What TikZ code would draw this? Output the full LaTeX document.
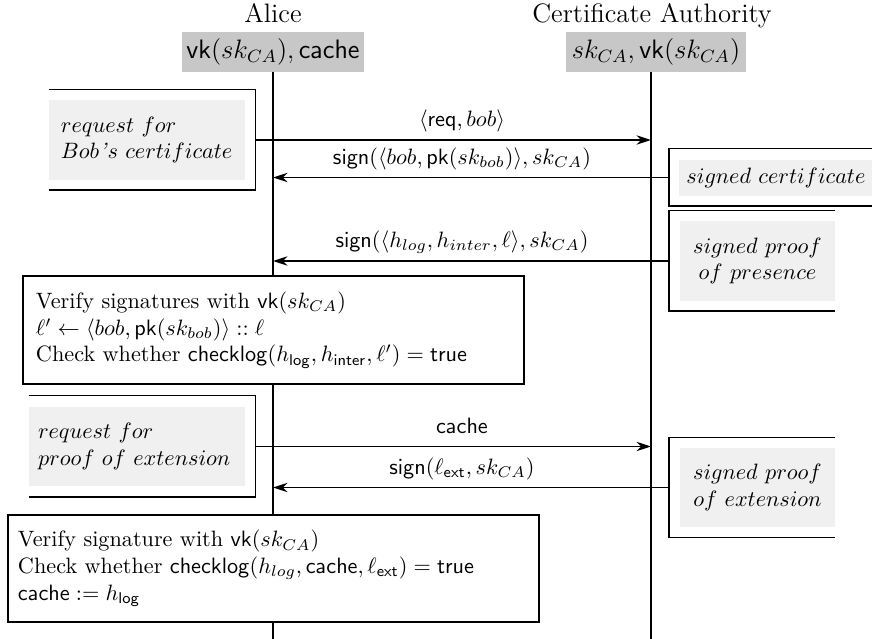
\documentclass[tikz,border=0pt]{standalone}
\usetikzlibrary{arrows.meta}
\begin{document}
\begin{tikzpicture}[x=0.45pt,y=-0.45pt,
  hdrname/.style={font=\large, inner sep=0pt, anchor=base},
  hdrbox/.style={fill=black!22, font=\large, minimum height=18pt, inner sep=0pt},
  frame/.style={line width=0.85pt},
  shade/.style={fill=black!6, inner ysep=0pt},
  life/.style={line width=0.6pt},
  lifeend/.style={line width=1.3pt},
  msg/.style={line width=0.7pt, -{Stealth[length=6.5pt,width=4.2pt,inset=2pt]}},
  lbl/.style={anchor=base, yshift=6pt, inner sep=0pt},
  vbox/.style={draw, line width=0.85pt, fill=white, align=left, inner ysep=0pt},
  outer/.style={inner sep=0pt, draw=none}
]
\useasboundingbox (0,0) rectangle (872,639);

% headers
\node[hdrname] (aname) at (273,23) {Alice};
\node[hdrname] (cname) at (652,23) {Certificate Authority};
\node[hdrbox, minimum width=81.9pt] (ah) at (273,52) {$\mathsf{vk}(sk_{CA}), \mathsf{cache}$};
\node[hdrbox, minimum width=81pt] (ch) at (656,52) {$sk_{CA}, \mathsf{vk}(sk_{CA})$};

% lifelines
\coordinate (aTop) at (273,72);
\coordinate (cTop) at (651,72);
\coordinate (aEnd) at (273,639);
\coordinate (cEnd) at (651,639);
\draw[life] (aTop) -- (aEnd);
\draw[life] (cTop) -- (cEnd);
\draw[lifeend] (aTop) -- ++(0,22);
\draw[lifeend] (cTop) -- ++(0,22);
\draw[lifeend] (aEnd) -- ++(0,-17);
\draw[lifeend] (cEnd) -- ++(0,-17);

% box 1: request for Bob's certificate
\node[outer, minimum width=92.7pt, minimum height=45pt] (f1) at (152,140) {};
\node[shade, inner xsep=5.4pt, text width=77.4pt, minimum height=36pt, align=left] (t1) at (147,140)
  {$request\ for$\\$Bob$\textit{'}$s\ certificate$};
\draw[frame] (f1.north west) -- (f1.north east) -- (f1.south east) -- (f1.south west);

% box 2: signed certificate
\node[outer, minimum width=91.35pt, minimum height=25.65pt] (f2) at (770.5,177.5) {};
\node[shade, minimum width=86.4pt, minimum height=16.2pt, align=center] (t2) at (776,178)
  {$signed\ certificate$};
\draw[frame] (f2.north east) -- (f2.north west) -- (f2.south west) -- (f2.south east);

% box 3: signed proof of presence
\node[outer, minimum width=74.7pt, minimum height=45pt] (f3) at (752,261) {};
\node[shade, minimum width=69.75pt, minimum height=36pt, align=center] (t3) at (757.5,261)
  {$signed\ proof$\\$of\ presence$};
\draw[frame] (f3.north east) -- (f3.north west) -- (f3.south west) -- (f3.south east);

% box 4: request for proof of extension
\node[outer, minimum width=101.7pt, minimum height=45.45pt] (f4) at (142,446.5) {};
\node[shade, inner xsep=4.05pt, text width=89.1pt, minimum height=35.55pt, align=left] (t4) at (137,446.5)
  {$request\ for$\\$proof\ of\ extension$};
\draw[frame] (f4.north west) -- (f4.north east) -- (f4.south east) -- (f4.south west);

% box 5: signed proof of extension
\node[outer, minimum width=74.7pt, minimum height=44.55pt] (f5) at (752,487.5) {};
\node[shade, minimum width=69.75pt, minimum height=35.55pt, align=center] (t5) at (757.5,487.5)
  {$signed\ proof$\\$of\ extension$};
\draw[frame] (f5.north east) -- (f5.north west) -- (f5.south west) -- (f5.south east);

% messages
\draw[msg] (f1.east) -- (f1.east -| cTop);
\path (f1.east -| aTop) -- (f1.east -| cTop) node[midway, lbl] (m1) {$\langle \mathsf{req}, bob\rangle$};
\draw[msg] (f2.west) -- (f2.west -| aTop);
\path (f2.west -| aTop) -- (f2.west -| cTop) node[midway, lbl] (m2) {$\mathsf{sign}(\langle bob, \mathsf{pk}(sk_{bob})\rangle, sk_{CA})$};
\draw[msg] (f3.west) -- (f3.west -| aTop);
\path (f3.west -| aTop) -- (f3.west -| cTop) node[midway, lbl] (m3) {$\mathsf{sign}(\langle h_{log}, h_{inter}, \ell\rangle, sk_{CA})$};
\draw[msg] (f4.east) -- (f4.east -| cTop);
\path (f4.east -| aTop) -- (f4.east -| cTop) node[midway, lbl] (m4) {$\mathsf{cache}$};
\draw[msg] (f5.west) -- (f5.west -| aTop);
\path (f5.west -| aTop) -- (f5.west -| cTop) node[midway, lbl] (m5) {$\mathsf{sign}(\ell_{\mathsf{ext}}, sk_{CA})$};

% verification boxes
\node[vbox, inner xsep=5.85pt, text width=213.75pt, minimum height=48.6pt] (v1) at (273.5,330)
  {Verify signatures with $\mathsf{vk}(sk_{CA})$\\
   $\ell' \leftarrow \langle bob, \mathsf{pk}(sk_{bob})\rangle :: \ell$\\
   Check whether $\mathsf{checklog}(h_{\mathsf{log}}, h_{\mathsf{inter}}, \ell') = \mathsf{true}$};
\node[vbox, inner xsep=4.5pt, text width=229.95pt, minimum height=48.15pt] (v2) at (273.5,568.5)
  {Verify signature with $\mathsf{vk}(sk_{CA})$\\
   Check whether $\mathsf{checklog}(h_{log}, \mathsf{cache}, \ell_{\mathsf{ext}}) = \mathsf{true}$\\
   $\mathsf{cache} := h_{\mathsf{log}}$};
\end{tikzpicture}
\end{document}
